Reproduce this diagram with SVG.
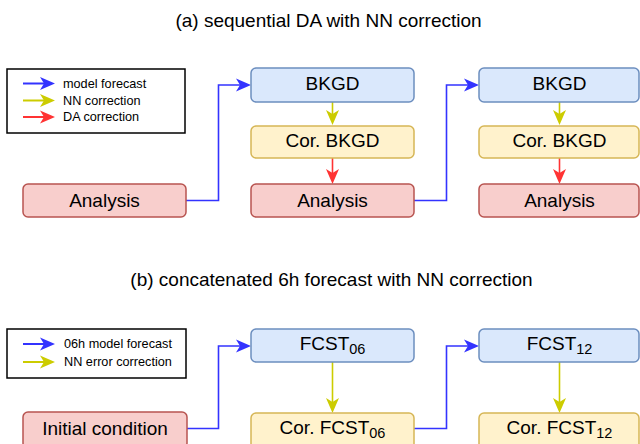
<svg xmlns="http://www.w3.org/2000/svg" width="640" height="444" viewBox="0 0 640 444">
<style>
text{font-family:"Liberation Sans",Arial,sans-serif;fill:#000}
.t{font-size:19px}
.n{font-size:19px;text-anchor:middle}
.s{font-size:14.5px}
.lg{font-size:12.7px}
.box{fill:#fff;stroke:#000;stroke-width:1.5}
.b{fill:#dae8fc;stroke:#6c8ebf;stroke-width:1.5}
.y{fill:#fff2cc;stroke:#d6b656;stroke-width:1.5}
.r{fill:#f8cecc;stroke:#b85450;stroke-width:1.5}
.cb{fill:none;stroke:#3333ff;stroke-width:1.6}
.cy{fill:none;stroke:#cccc00;stroke-width:1.6}
.cr{fill:none;stroke:#ff3333;stroke-width:1.6}
.lb{fill:none;stroke:#3333ff;stroke-width:2}
.ly{fill:none;stroke:#cccc00;stroke-width:2}
.lr{fill:none;stroke:#ff3333;stroke-width:2}
</style>
<defs>
<marker id="ab" markerUnits="userSpaceOnUse" markerWidth="15" markerHeight="14" refX="4" refY="7" orient="auto" viewBox="0 0 15 14"><path d="M0,0.5 L15,7 L0,13.5 L4,7 Z" fill="#3333ff"/></marker>
<marker id="ay" markerUnits="userSpaceOnUse" markerWidth="15" markerHeight="14" refX="4" refY="7" orient="auto" viewBox="0 0 15 14"><path d="M0,0.5 L15,7 L0,13.5 L4,7 Z" fill="#cccc00"/></marker>
<marker id="ar" markerUnits="userSpaceOnUse" markerWidth="15" markerHeight="14" refX="4" refY="7" orient="auto" viewBox="0 0 15 14"><path d="M0,0.5 L15,7 L0,13.5 L4,7 Z" fill="#ff3333"/></marker>
</defs>

<text class="t" x="328.5" y="27" text-anchor="middle">(a) sequential DA with NN correction</text>
<text class="t" x="331.5" y="286" text-anchor="middle">(b) concatenated 6h forecast with NN correction</text>

<g id="legend-a">
<rect class="box" x="7" y="69" width="178" height="64"/>
<path class="lb" d="M23,83.5 H44" marker-end="url(#ab)"/>
<path class="ly" d="M23,100.5 H44" marker-end="url(#ay)"/>
<path class="lr" d="M23,117 H44" marker-end="url(#ar)"/>
<text class="lg" x="63" y="87.8">model forecast</text>
<text class="lg" x="63" y="105">NN correction</text>
<text class="lg" x="63" y="121.3">DA correction</text>
</g>

<g id="legend-b">
<rect class="box" x="7" y="329" width="179" height="49"/>
<path class="lb" d="M23,344 H44" marker-end="url(#ab)"/>
<path class="ly" d="M23,362 H44" marker-end="url(#ay)"/>
<text class="lg" x="64" y="348">06h model forecast</text>
<text class="lg" x="64" y="366">NN error correction</text>
</g>

<g id="connectors">
<path class="cb" d="M186,200.5 H218.5 V85 H240" marker-end="url(#ab)"/>
<path class="cb" d="M414,200.5 H446.5 V85 H468" marker-end="url(#ab)"/>
<path class="cy" d="M332.5,102 V114" marker-end="url(#ay)"/>
<path class="cy" d="M559.5,102 V114" marker-end="url(#ay)"/>
<path class="cr" d="M332.5,158 V173" marker-end="url(#ar)"/>
<path class="cr" d="M559.5,158 V173" marker-end="url(#ar)"/>
<path class="cb" d="M187,428.5 H218.5 V346 H240" marker-end="url(#ab)"/>
<path class="cb" d="M414,428.5 H446.5 V346 H468" marker-end="url(#ab)"/>
<path class="cy" d="M332.5,362 V402" marker-end="url(#ay)"/>
<path class="cy" d="M559.5,362 V402" marker-end="url(#ay)"/>
</g>

<g id="analysis-1"><rect class="r" x="23" y="184" width="163" height="33" rx="5"/><text class="n" x="104.5" y="206.5">Analysis</text></g>
<g id="bkgd-1"><rect class="b" x="251" y="68" width="163" height="34" rx="5"/><text class="n" x="332.5" y="90">BKGD</text></g>
<g id="cor-bkgd-1"><rect class="y" x="251" y="126" width="163" height="32" rx="5"/><text class="n" x="332.5" y="146.5">Cor. BKGD</text></g>
<g id="analysis-2"><rect class="r" x="251" y="184" width="163" height="33" rx="5"/><text class="n" x="332.5" y="206.5">Analysis</text></g>
<g id="bkgd-2"><rect class="b" x="479" y="68" width="160" height="34" rx="5"/><text class="n" x="559.5" y="90">BKGD</text></g>
<g id="cor-bkgd-2"><rect class="y" x="479" y="126" width="160" height="32" rx="5"/><text class="n" x="559.5" y="146.5">Cor. BKGD</text></g>
<g id="analysis-3"><rect class="r" x="479" y="184" width="160" height="33" rx="5"/><text class="n" x="559.5" y="206.5">Analysis</text></g>

<g id="initial-condition"><rect class="r" x="23" y="412" width="164" height="36" rx="5"/><text class="n" x="105" y="434.5">Initial condition</text></g>
<g id="fcst06"><rect class="b" x="251" y="329" width="163" height="33" rx="5"/><text class="n" x="332.5" y="349.5">FCST<tspan class="s" dy="4">06</tspan></text></g>
<g id="cor-fcst06"><rect class="y" x="251" y="413" width="163" height="36" rx="5"/><text class="n" x="332.5" y="433.5">Cor. FCST<tspan class="s" dy="4">06</tspan></text></g>
<g id="fcst12"><rect class="b" x="479" y="329" width="160" height="33" rx="5"/><text class="n" x="559.5" y="349.5">FCST<tspan class="s" dy="4">12</tspan></text></g>
<g id="cor-fcst12"><rect class="y" x="479" y="413" width="160" height="36" rx="5"/><text class="n" x="559.5" y="433.5">Cor. FCST<tspan class="s" dy="4">12</tspan></text></g>
</svg>
